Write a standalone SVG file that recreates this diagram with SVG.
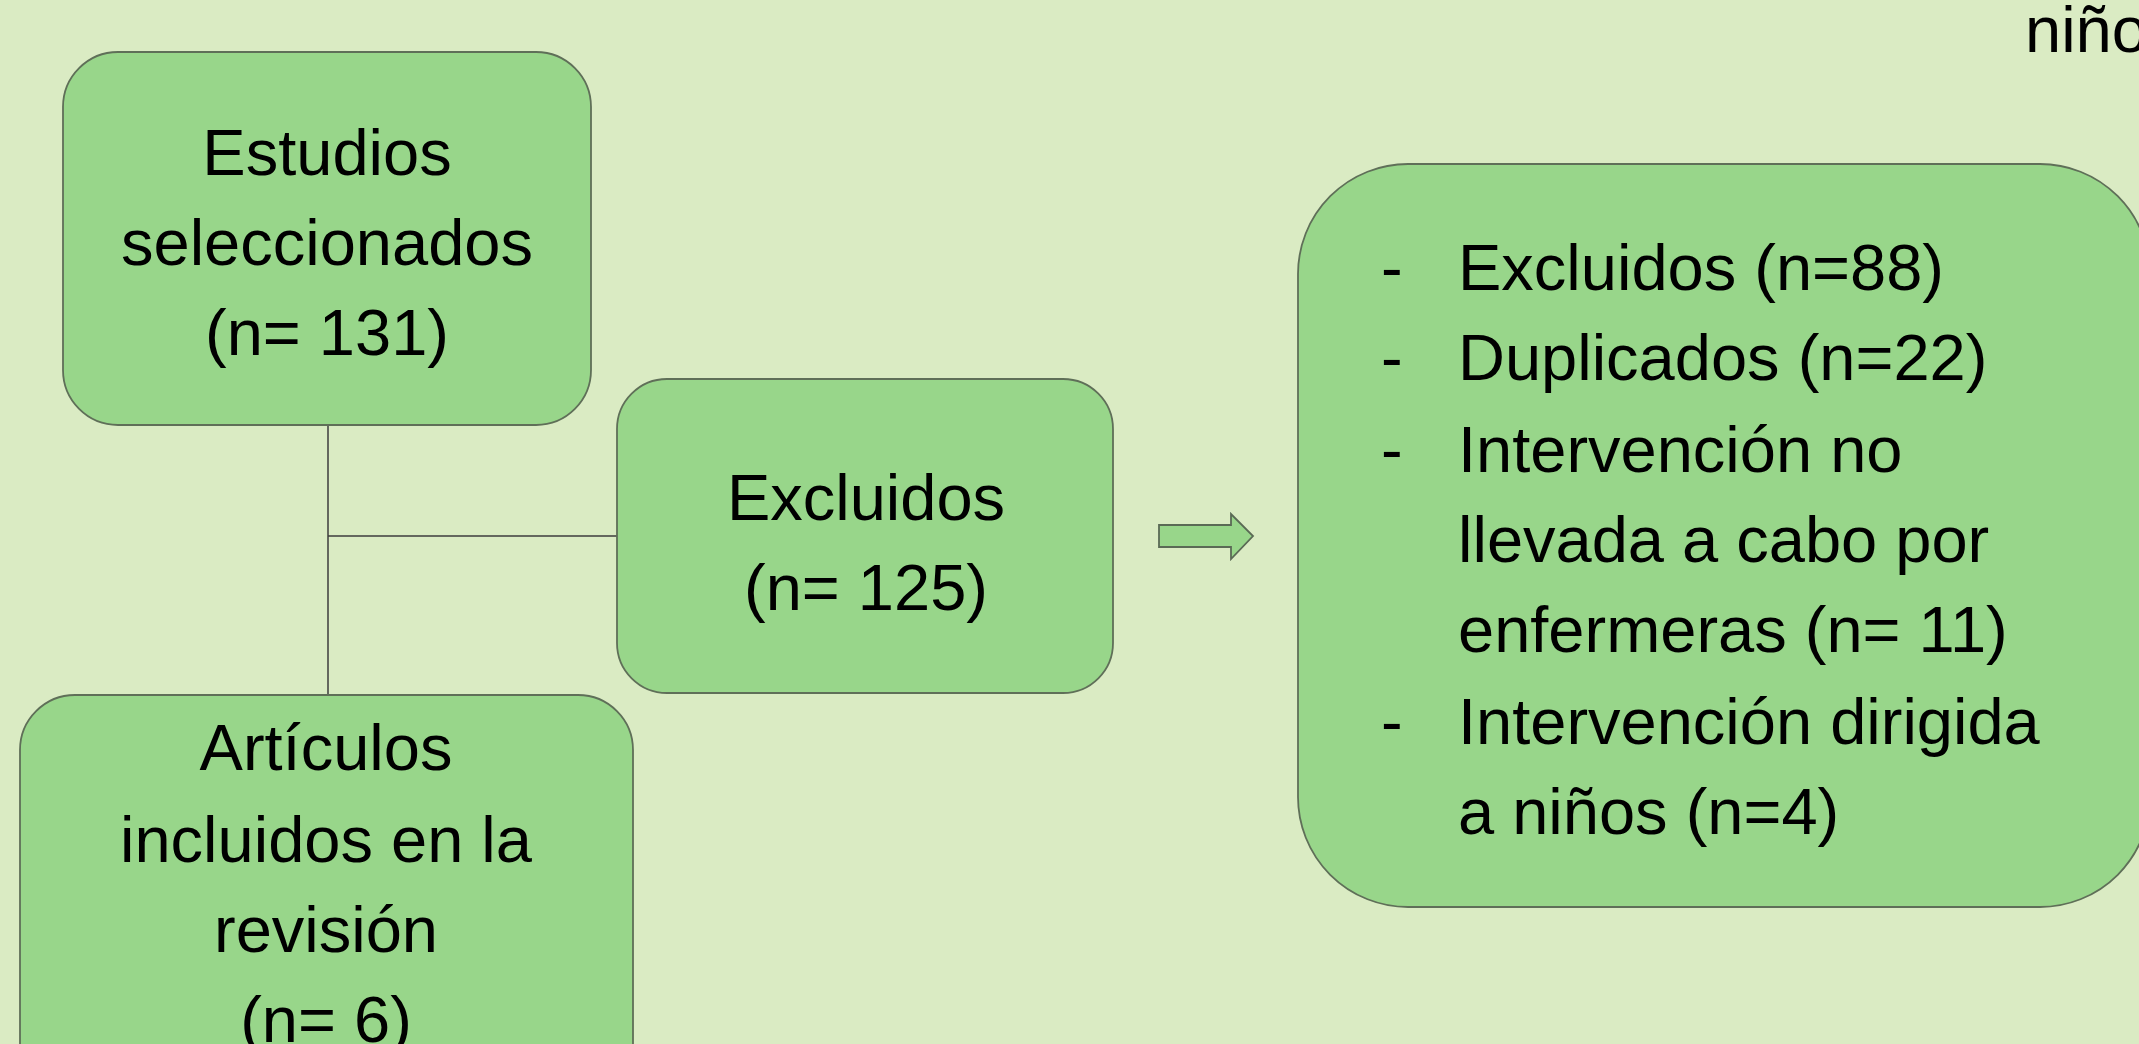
<svg xmlns="http://www.w3.org/2000/svg" width="2139" height="1044" viewBox="0 0 2139 1044">
<style>
.box{fill:#98d68a;stroke:#5f6f58;stroke-width:1.8}
.t{font-family:"Liberation Sans",Arial,sans-serif;font-size:65px;fill:#000}
.c{text-anchor:middle}
.ln{stroke:#3d3d3d;stroke-width:1.5;fill:none}
</style>
<rect width="2139" height="1044" fill="#daebc3"/>
<g id="connectors">
<line class="ln" x1="328" y1="425" x2="328" y2="695"/>
<line class="ln" x1="328" y1="536" x2="618" y2="536"/>
<path id="arrow" d="M1159 525 H1231 V514 L1253 536 L1231 559 V547 H1159 Z" fill="#98d68a" stroke="#5a6a55" stroke-width="1.8"/>
</g>
<g id="estudios">
<rect class="box" x="63" y="52" width="528" height="373" rx="55"/>
<text class="t c" x="327" y="175">Estudios</text>
<text class="t c" x="327" y="265">seleccionados</text>
<text class="t c" x="327" y="355">(n= 131)</text>
</g>
<g id="excluidos">
<rect class="box" x="617" y="379" width="496" height="314" rx="50"/>
<text class="t c" x="866" y="520">Excluidos</text>
<text class="t c" x="866" y="610">(n= 125)</text>
</g>
<g id="articulos">
<rect class="box" x="20" y="695" width="613" height="420" rx="55"/>
<text class="t c" x="326" y="770">Artículos</text>
<text class="t c" x="326" y="862">incluidos en la</text>
<text class="t c" x="326" y="952">revisión</text>
<text class="t c" x="326" y="1042">(n= 6)</text>
</g>
<g id="lista">
<rect class="box" x="1298" y="164" width="852" height="743" rx="110"/>
<text class="t" x="1381" y="290">-</text>
<text class="t" x="1458" y="290">Excluidos (n=88)</text>
<text class="t" x="1381" y="380">-</text>
<text class="t" x="1458" y="380">Duplicados (n=22)</text>
<text class="t" x="1381" y="472">-</text>
<text class="t" x="1458" y="472">Intervención no</text>
<text class="t" x="1458" y="562">llevada a cabo por</text>
<text class="t" x="1458" y="652">enfermeras (n= 11)</text>
<text class="t" x="1381" y="744">-</text>
<text class="t" x="1458" y="744">Intervención dirigida</text>
<text class="t" x="1458" y="834">a niños (n=4)</text>
</g>
<g id="fragmento">
<text class="t" x="2025" y="52">niño</text>
</g>
</svg>
